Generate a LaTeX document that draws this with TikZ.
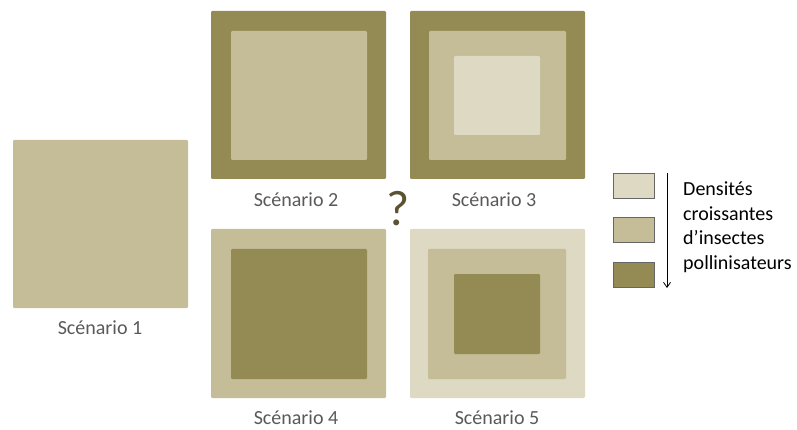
\documentclass[tikz,border=0pt]{standalone}
\usepackage{fontspec}
\setmainfont{Carlito}
\usetikzlibrary{arrows.meta}
\definecolor{tanlight}{HTML}{DDD9C3}
\definecolor{tanmid}{HTML}{C4BD97}
\definecolor{tandark}{HTML}{948A54}
\definecolor{qmark}{HTML}{5A5232}
\definecolor{labelgray}{HTML}{595959}
\tikzset{
  sq/.style={rectangle, rounded corners=1.2pt, inner sep=0pt, outer sep=0pt, draw=none},
  lab/.style={font=\fontsize{20}{24}\selectfont, text=labelgray, inner sep=0pt},
  legbox/.style={rectangle, inner sep=0pt, outer sep=0pt, draw=gray!80!black, line width=0.8pt, minimum width=41pt, minimum height=25pt},
}
\begin{document}
\begin{tikzpicture}[x=1pt,y=-1pt]
\useasboundingbox (0,0) rectangle (797,430);
% Scenario 1
\node[sq, fill=tanmid, minimum width=175pt, minimum height=168pt] (s1) at (100.5,224) {};
\node[lab] (l1) at (100,328) {Scénario 1};
% Scenario 2
\node[sq, fill=tandark, minimum width=175pt, minimum height=168pt] (s2) at (298.5,95) {};
\node[sq, fill=tanmid, minimum width=136pt, minimum height=129pt] (s2i) at (299,95.5) {};
\node[lab] (l2) at (296,200) {Scénario 2};
% Scenario 3
\node[sq, fill=tandark, minimum width=175pt, minimum height=168pt] (s3) at (497.5,95) {};
\node[sq, fill=tanmid, minimum width=137pt, minimum height=129pt] (s3m) at (497.5,95.5) {};
\node[sq, fill=tanlight, minimum width=86pt, minimum height=79pt] (s3i) at (497,95.5) {};
\node[lab] (l3) at (494,200) {Scénario 3};
% Scenario 4
\node[sq, fill=tanmid, minimum width=175pt, minimum height=169pt] (s4) at (298.5,313.5) {};
\node[sq, fill=tandark, minimum width=136pt, minimum height=130pt] (s4i) at (299,314) {};
\node[lab] (l4) at (296,418) {Scénario 4};
% Scenario 5
\node[sq, fill=tanlight, minimum width=175pt, minimum height=169pt] (s5) at (497.5,313.5) {};
\node[sq, fill=tanmid, minimum width=138pt, minimum height=130pt] (s5m) at (497,314) {};
\node[sq, fill=tandark, minimum width=86pt, minimum height=80pt] (s5i) at (497,314) {};
\node[lab] (l5) at (497,418) {Scénario 5};
% question mark
\node[font=\fontsize{50}{50}\selectfont, text=qmark, inner sep=0pt] (q) at (398,209) {?};
% legend
\node[legbox, fill=tanlight] (b1) at (633.5,185.5) {};
\node[legbox, fill=tanmid] (b2) at (633.5,230) {};
\node[legbox, fill=tandark] (b3) at (633.5,275) {};
\coordinate (a1) at (667,173);
\coordinate (a2) at (667,288);
\draw[line width=0.8pt, -{Straight Barb[length=5pt,width=7pt]}] (a1) -- (a2);
\node[anchor=west, align=left, font=\fontsize{20}{24.5}\selectfont, inner sep=0pt] (lt) at (683,227) {Densités\\croissantes\\d’insectes\\pollinisateurs};
\end{tikzpicture}
\end{document}
